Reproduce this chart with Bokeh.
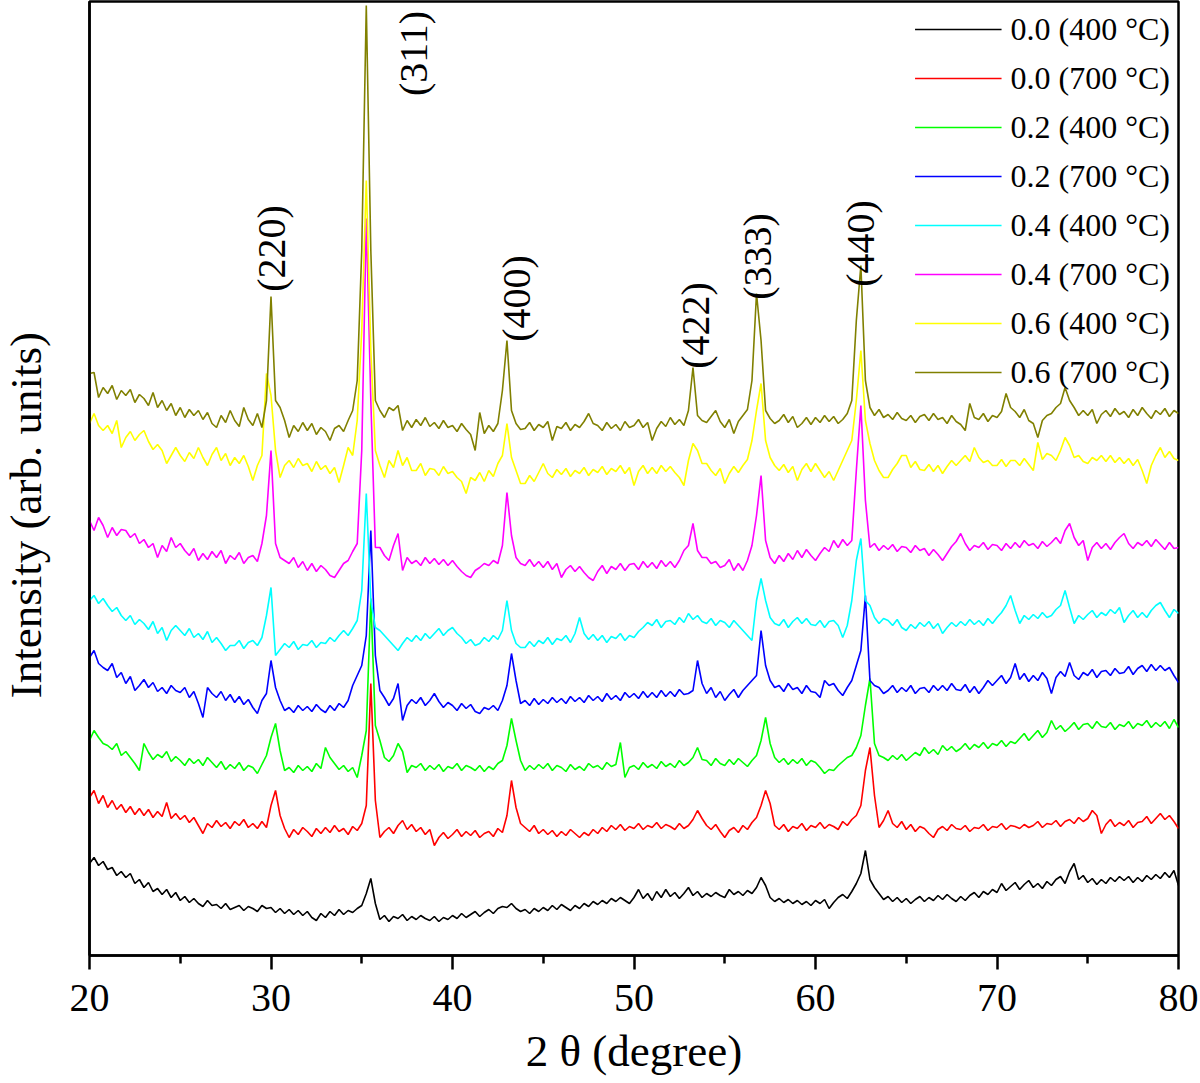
import numpy as np
from math import pi
from bokeh.plotting import figure
from bokeh.layouts import row
from bokeh.models import Range1d, FixedTicker, Legend, LegendItem, ColumnDataSource
from bokeh.core.properties import value
from bokeh.embed import file_html
from bokeh.resources import INLINE

# 2-theta sampling grid (degrees)
two_theta = np.arange(20.0, 80.0001, 0.25)

series_names = ["0.0 (400 °C)", "0.0 (700 °C)", "0.2 (400 °C)", "0.2 (700 °C)",
                "0.4 (400 °C)", "0.4 (700 °C)", "0.6 (400 °C)", "0.6 (700 °C)"]
series_colors = ["#000000", "#FF0000", "#00FF00", "#0000FF",
                 "#00FFFF", "#FF00FF", "#FFFF00", "#808000"]

# intensities (arb. units, already vertically stacked as in the figure)
s00_400 = [92, 98, 90, 94, 86, 88, 80, 84, 78, 82, 72, 76, 68, 73, 64, 67, 61, 66, 58, 63,
           55, 59, 53, 57, 52, 49, 55, 50, 51, 47, 52, 46, 48, 50, 45, 49, 47, 44, 50, 47,
           48, 43, 47, 42, 46, 41, 45, 40, 44, 38, 35, 42, 38, 44, 40, 46, 41, 45, 43, 47,
           50, 62, 77, 52, 36, 40, 34, 39, 37, 41, 35, 39, 36, 40, 37, 35, 39, 34, 38, 36,
           40, 37, 42, 38, 41, 44, 39, 43, 46, 42, 47, 49, 48, 52, 47, 44, 46, 42, 47, 44,
           48, 45, 50, 46, 51, 48, 45, 50, 47, 52, 49, 54, 51, 55, 52, 57, 54, 58, 55, 52,
           58, 66, 57, 62, 55, 64, 58, 66, 59, 63, 57, 62, 68, 60, 64, 58, 62, 59, 63, 60,
           58, 66, 61, 64, 60, 65, 62, 68, 78, 70, 58, 54, 57, 53, 56, 52, 55, 51, 54, 50,
           55, 52, 56, 47, 53, 58, 61, 57, 64, 72, 82, 105, 76, 68, 62, 56, 59, 54, 58, 53,
           57, 52, 56, 59, 54, 58, 55, 60, 56, 61, 57, 54, 59, 55, 60, 63, 58, 64, 61, 66,
           63, 72, 65, 69, 73, 66, 71, 75, 68, 72, 67, 74, 70, 76, 79, 72, 84, 92, 76, 80,
           73, 77, 71, 76, 72, 78, 74, 79, 75, 79, 73, 78, 74, 80, 76, 81, 77, 83, 78, 85,
           70]
s00_700 = [158, 165, 152, 160, 148, 155, 146, 151, 143, 149, 141, 147, 140, 146, 138, 144,
           139, 153, 137, 142, 136, 140, 133, 138, 130, 122, 132, 128, 135, 129, 133, 127,
           134, 130, 136, 128, 132, 127, 134, 128, 150, 165, 140, 127, 118, 126, 121, 128,
           124, 119, 127, 122, 128, 123, 130, 124, 127, 121, 129, 125, 132, 150, 272, 155,
           118, 124, 128, 122, 130, 135, 126, 131, 124, 128, 121, 126, 110, 118, 123, 117,
           121, 126, 119, 124, 120, 125, 118, 122, 124, 119, 127, 123, 140, 175, 148, 132,
           128, 124, 130, 122, 126, 121, 125, 119, 124, 120, 126, 122, 118, 123, 120, 126,
           122, 128, 124, 130, 126, 131, 125, 129, 127, 132, 126, 130, 128, 133, 127, 131,
           129, 126, 132, 127, 130, 136, 145, 137, 130, 126, 131, 124, 118, 125, 128, 123,
           130, 126, 133, 138, 150, 165, 152, 130, 126, 131, 124, 129, 127, 132, 125, 130,
           128, 133, 127, 131, 129, 126, 134, 130, 136, 140, 150, 185, 208, 160, 128, 135,
           145, 132, 128, 134, 126, 131, 124, 129, 127, 122, 118, 126, 129, 125, 131, 127,
           126, 130, 124, 128, 127, 131, 125, 129, 128, 132, 126, 130, 129, 127, 131, 128,
           130, 134, 128, 132, 131, 135, 129, 134, 136, 132, 138, 134, 137, 145, 140, 122,
           131, 136, 129, 133, 130, 135, 128, 133, 134, 139, 132, 137, 142, 136, 140, 134,
           127]
s02_400 = [215, 225, 218, 212, 210, 206, 212, 200, 204, 198, 192, 185, 212, 203, 196, 201,
           198, 204, 194, 199, 195, 190, 197, 192, 196, 190, 198, 193, 188, 194, 186, 191,
           187, 193, 185, 190, 188, 182, 191, 200, 218, 232, 205, 185, 188, 183, 190, 185,
           189, 184, 192, 187, 208, 198, 192, 186, 190, 184, 188, 178, 200, 225, 357, 230,
           215, 198, 194, 200, 212, 204, 183, 190, 188, 192, 185, 190, 186, 191, 184, 189,
           187, 192, 185, 190, 188, 185, 190, 184, 189, 186, 192, 195, 210, 237, 215, 195,
           185, 190, 186, 191, 187, 192, 185, 190, 188, 184, 191, 186, 189, 185, 192, 188,
           190, 186, 193, 189, 191, 213, 178, 188, 190, 186, 193, 188, 191, 187, 194, 189,
           192, 188, 195, 190, 193, 198, 208, 196, 195, 190, 197, 192, 190, 196, 191, 197,
           193, 189, 195, 200, 215, 238, 212, 198, 193, 197, 191, 196, 192, 197, 190, 195,
           193, 188, 182, 186, 185, 190, 194, 198, 200, 208, 220, 250, 277, 212, 200, 198,
           195, 200, 196, 201, 195, 199, 203, 200, 208, 202, 206, 201, 210, 205, 209, 204,
           207, 212, 206, 211, 208, 213, 207, 212, 210, 215, 209, 214, 212, 217, 222, 215,
           220, 225, 218, 223, 235, 226, 230, 224, 228, 233, 226, 231, 232, 227, 234, 229,
           228, 233, 226, 231, 229, 234, 227, 232, 230, 235, 228, 233, 229, 234, 227, 236,
           228]
s02_700 = [298, 305, 292, 288, 285, 292, 278, 283, 272, 279, 265, 270, 276, 268, 273, 264,
           268, 262, 270, 265, 263, 268, 258, 264, 252, 238, 268, 262, 258, 264, 255, 261,
           253, 259, 251, 256, 248, 242, 255, 262, 295, 268, 255, 245, 248, 243, 250, 245,
           249, 244, 251, 246, 243, 250, 245, 252, 248, 255, 270, 280, 290, 320, 425, 300,
           265, 258, 250, 257, 272, 235, 250, 256, 252, 258, 250, 255, 262, 254, 248, 253,
           250, 245, 252, 247, 251, 244, 242, 248, 246, 250, 245, 255, 270, 302, 275, 252,
           255, 250, 257, 251, 256, 252, 258, 253, 257, 252, 259, 254, 258, 253, 260, 255,
           259, 254, 262, 256, 260, 255, 263, 258, 262, 257, 264, 258, 263, 258, 265, 259,
           264, 259, 266, 261, 262, 265, 295, 272, 262, 268, 258, 264, 255, 261, 266, 258,
           265, 270, 275, 280, 325, 290, 275, 268, 270, 264, 272, 266, 268, 262, 270, 264,
           263, 258, 275, 270, 272, 265, 260, 268, 275, 290, 305, 360, 275, 270, 268, 262,
           265, 270, 263, 268, 264, 270, 262, 267, 268, 263, 270, 265, 270, 265, 272, 266,
           265, 271, 263, 269, 262, 268, 275, 270, 275, 280, 272, 278, 292, 276, 282, 274,
           280, 275, 283, 277, 262, 278, 284, 279, 293, 280, 276, 283, 280, 286, 278, 284,
           285, 280, 287, 282, 283, 289, 281, 287, 290, 284, 291, 285, 290, 285, 288, 280,
           273]
s04_400 = [355, 360, 352, 357, 350, 344, 348, 340, 335, 340, 331, 336, 332, 326, 334, 322,
           328, 315, 325, 330, 325, 320, 327, 318, 322, 316, 324, 313, 318, 312, 305, 310,
           310, 315, 307, 313, 315, 310, 318, 340, 368, 300, 306, 312, 308, 314, 306, 311,
           310, 315, 308, 313, 312, 318, 314, 320, 325, 320, 327, 335, 365, 462, 355, 328,
           325, 320, 315, 310, 305, 312, 318, 314, 320, 315, 322, 317, 322, 327, 320, 325,
           328, 322, 318, 312, 316, 310, 312, 318, 314, 320, 316, 325, 355, 325, 312, 308,
           308, 314, 309, 315, 312, 318, 311, 317, 315, 320, 313, 322, 338, 322, 316, 321,
           315, 320, 313, 319, 317, 322, 315, 320, 318, 324, 328, 333, 330, 336, 328, 334,
           335, 331, 338, 333, 342, 336, 340, 334, 332, 337, 330, 335, 333, 328, 335, 330,
           325, 320, 315, 355, 377, 355, 338, 332, 330, 336, 328, 334, 338, 332, 337, 331,
           330, 335, 328, 334, 335, 330, 318, 330, 355, 395, 417, 355, 350, 338, 332, 337,
           335, 330, 336, 328, 325, 331, 327, 333, 329, 334, 327, 332, 322, 328, 333, 329,
           334, 330, 336, 331, 335, 330, 337, 332, 338, 343, 350, 360, 345, 332, 340, 336,
           341, 337, 343, 338, 340, 346, 350, 365, 348, 332, 340, 336, 341, 345, 338, 343,
           340, 346, 342, 348, 333, 340, 345, 338, 343, 338, 345, 350, 353, 345, 338, 346,
           342]
s04_700 = [435, 425, 438, 430, 418, 428, 420, 426, 425, 418, 422, 412, 416, 408, 412, 398,
           410, 404, 418, 408, 412, 405, 400, 407, 395, 402, 396, 404, 398, 405, 392, 400,
           396, 403, 392, 398, 400, 394, 412, 440, 505, 412, 398, 395, 392, 398, 388, 394,
           385, 392, 384, 390, 386, 380, 378, 385, 392, 395, 404, 412, 505, 737, 555, 408,
           408, 400, 395, 410, 422, 385, 398, 392, 395, 390, 398, 392, 397, 391, 396, 390,
           395, 389, 384, 380, 378, 385, 388, 392, 390, 395, 392, 410, 463, 420, 398, 392,
           390, 396, 389, 394, 388, 394, 386, 392, 378, 386, 390, 384, 389, 383, 378, 375,
           384, 390, 382, 389, 386, 392, 385, 391, 392, 386, 394, 388, 393, 387, 395, 389,
           394, 388, 395, 405, 410, 432, 405, 398, 398, 392, 394, 388, 390, 396, 385, 392,
           385, 395, 410, 440, 480, 415, 398, 392, 400, 394, 402, 396, 405, 398, 406, 400,
           395, 402, 408, 404, 415, 408, 416, 410, 415, 485, 550, 455, 408, 412, 405, 410,
           406, 411, 404, 409, 408, 403, 410, 405, 407, 400, 406, 401, 395, 402, 409, 414,
           422, 412, 405, 410, 408, 413, 406, 411, 410, 405, 412, 407, 413, 408, 415, 410,
           412, 407, 414, 409, 413, 418, 412, 425, 432, 418, 410, 415, 395, 408, 413, 407,
           412, 406, 413, 418, 422, 412, 407, 413, 410, 415, 409, 416, 411, 406, 413, 407,
           408]
s06_400 = [532, 542, 530, 525, 530, 522, 535, 508, 518, 524, 515, 521, 525, 514, 506, 511,
           505, 492, 500, 508, 500, 494, 503, 497, 508, 498, 490, 501, 508, 495, 502, 490,
           498, 492, 500, 489, 475, 490, 500, 582, 560, 505, 478, 490, 495, 488, 497, 490,
           492, 484, 494, 486, 490, 482, 488, 473, 490, 508, 500, 535, 625, 775, 605, 505,
           490, 478, 495, 488, 505, 490, 498, 485, 485, 492, 480, 487, 486, 480, 489, 482,
           484, 478, 474, 462, 478, 475, 483, 474, 485, 479, 492, 500, 532, 498, 485, 472,
           472, 480, 474, 483, 492, 482, 478, 486, 481, 487, 479, 485, 482, 488, 480, 486,
           483, 489, 481, 487, 484, 490, 482, 488, 470, 484, 490, 482, 488, 482, 490, 484,
           489, 483, 478, 470, 495, 512, 505, 492, 492, 485, 480, 487, 472, 482, 489, 483,
           490, 496, 515, 545, 572, 515, 498, 490, 485, 491, 483, 489, 475, 486, 492, 484,
           492, 485, 478, 484, 475, 485, 495, 505, 515, 555, 605, 535, 512, 495, 485, 478,
           478, 486, 492, 500, 500, 488, 494, 486, 485, 491, 484, 490, 482, 489, 495, 490,
           495, 500, 494, 508, 498, 493, 495, 490, 490, 496, 489, 495, 495, 490, 497, 491,
           485, 513, 496, 502, 500, 495, 505, 518, 510, 498, 500, 494, 492, 498, 495, 500,
           494, 500, 493, 498, 492, 497, 490, 496, 485, 472, 490, 500, 508, 498, 504, 497,
           495]
s06_700 = [582, 583, 558, 568, 562, 570, 556, 565, 560, 566, 553, 561, 557, 550, 563, 548,
           555, 545, 552, 540, 548, 538, 546, 540, 545, 536, 543, 532, 528, 540, 533, 545,
           535, 529, 548, 536, 530, 542, 528, 555, 659, 555, 548, 535, 518, 530, 524, 533,
           525, 532, 521, 528, 524, 515, 527, 530, 524, 535, 545, 575, 705, 950, 705, 555,
           545, 538, 548, 545, 550, 525, 535, 528, 536, 530, 538, 529, 533, 527, 535, 528,
           530, 524, 532, 526, 521, 505, 543, 522, 530, 524, 532, 565, 615, 545, 532, 526,
           527, 533, 525, 531, 528, 534, 515, 529, 527, 533, 525, 531, 528, 534, 542, 532,
           530, 525, 533, 527, 531, 525, 534, 528, 530, 536, 528, 533, 515, 527, 534, 529,
           538, 531, 536, 530, 545, 588, 540, 535, 533, 539, 545, 534, 528, 536, 522, 534,
           540, 546, 575, 662, 615, 545, 537, 532, 535, 541, 533, 539, 528, 532, 538, 531,
           538, 533, 540, 534, 539, 532, 536, 542, 555, 635, 690, 575, 548, 540, 546, 538,
           541, 536, 543, 537, 535, 540, 533, 539, 541, 535, 542, 536, 538, 532, 540, 534,
           531, 525, 552, 538, 536, 542, 534, 540, 538, 544, 562, 548, 544, 538, 546, 535,
           532, 518, 535, 540, 542, 548, 552, 568, 555, 548, 540, 545, 540, 546, 532, 541,
           545, 539, 547, 541, 544, 538, 546, 540, 548, 542, 537, 545, 541, 547, 539, 545,
           542]

series_values = [s00_400, s00_700, s02_400, s02_700, s04_400, s04_700, s06_400, s06_700]

# reflection labels
peak_labels = ["(220)", "(311)", "(400)", "(422)", "(333)", "(440)"]
peak_label_x = [30.0, 37.85, 43.5, 53.4, 56.8, 62.5]
peak_label_y = [707, 902, 657, 630, 699, 712]

x_ticks = [20, 30, 40, 50, 60, 70, 80]
x_minor = [25, 35, 45, 55, 65, 75]

y_title = "Intensity (arb. units)"

FONT = "Liberation Serif"
LEFT_W = 54
PAGE_H = 1083

p = figure(width=1200 - LEFT_W, height=PAGE_H, output_backend="svg", toolbar_location=None,
           x_range=Range1d(20, 80), y_range=Range1d(0, 954),
           min_border_left=89 - LEFT_W, min_border_right=22, min_border_top=1,
           min_border_bottom=128)
p.xgrid.visible = False
p.ygrid.visible = False
p.outline_line_color = "black"
p.outline_line_width = 2.5
p.background_fill_color = "white"

renderers = []
for name, col, vals in zip(series_names, series_colors, series_values):
    r = p.line(two_theta, vals, line_color=col, line_width=1.6)
    renderers.append((name, r))

src = ColumnDataSource(dict(x=peak_label_x, y=peak_label_y, t=peak_labels))
p.text(x="x", y="y", text="t", source=src, angle=pi / 2, text_align="center",
       text_baseline="middle", text_font=value(FONT), text_font_size="40px", text_color="black")

# x axis
xa = p.xaxis[0]
xa.ticker = FixedTicker(ticks=x_ticks, minor_ticks=x_minor)
xa.axis_line_width = 2.5
xa.major_tick_line_width = 2.5
xa.minor_tick_line_width = 2.5
xa.major_tick_in = 0
xa.major_tick_out = 14
xa.minor_tick_in = 0
xa.minor_tick_out = 8
xa.major_label_text_font = FONT
xa.major_label_text_font_size = "40px"
xa.major_label_text_color = "black"
xa.major_label_standoff = 15
xa.axis_label = "2 θ (degree)"
xa.axis_label_text_font = FONT
xa.axis_label_text_font_size = "45px"
xa.axis_label_text_font_style = "normal"
xa.axis_label_text_color = "black"
xa.axis_label_standoff = 12

# y axis: no ticks
ya = p.yaxis[0]
ya.ticker = FixedTicker(ticks=[])
ya.axis_line_width = 2.5
ya.major_tick_line_color = None
ya.minor_tick_line_color = None
ya.major_label_text_font_size = "0px"

legend = Legend(items=[LegendItem(label=n, renderers=[r]) for n, r in renderers],
                location="top_right", margin=8, padding=6, spacing=9,
                glyph_width=87, glyph_height=40, label_height=40, label_standoff=9,
                label_text_font=FONT, label_text_font_size="32px", label_text_color="black",
                border_line_color=None, background_fill_alpha=0)
p.add_layout(legend)

# narrow strip on the left holding the y-axis title (pixel coordinates, origin bottom-left)
t = figure(width=LEFT_W, height=PAGE_H, output_backend="svg", toolbar_location=None,
           x_range=Range1d(0, LEFT_W), y_range=Range1d(0, PAGE_H),
           x_axis_location=None, y_axis_location=None,
           min_border=0, outline_line_color=None)
t.grid.visible = False
t.text(x=[25], y=[PAGE_H - 583], text=[y_title], angle=pi / 2, text_align="center",
       text_baseline="middle", text_font=value(FONT), text_font_size="45px",
       text_color="black")

layout = row(t, p, spacing=0)
open("out.html", "w").write(file_html(layout, INLINE))
